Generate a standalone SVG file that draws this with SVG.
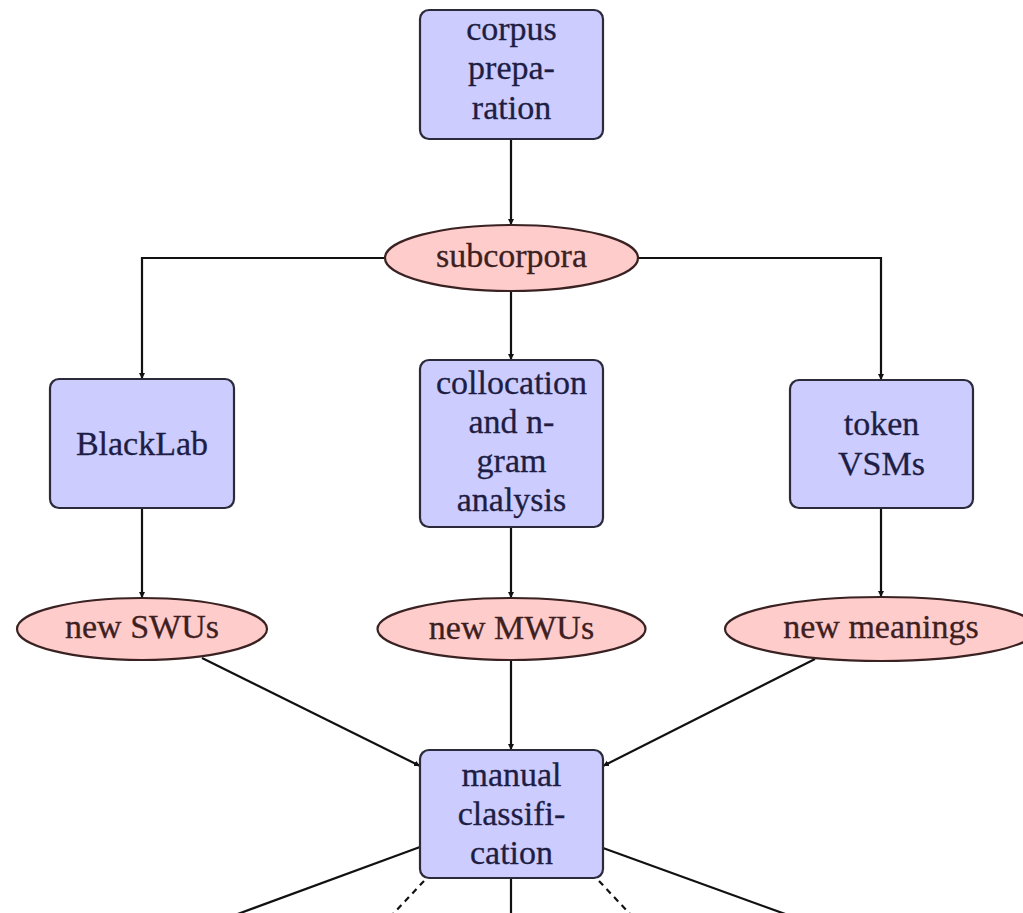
<svg xmlns="http://www.w3.org/2000/svg" width="1023" height="913" viewBox="0 0 1023 913">
<style>
.box rect{fill:#ccccff;stroke:#2a2a3a;stroke-width:2.2}
.ell ellipse{fill:#ffcccc;stroke:#3a2222;stroke-width:2.2}
text{font-family:"Liberation Serif","Times New Roman",serif;font-size:34px;text-anchor:middle;stroke-width:0.3}
.box text{fill:#1e1e44;stroke:#1e1e44}
.ell text{fill:#3d2020;stroke:#3d2020}
.edge{fill:none;stroke:#111;stroke-width:2.2}
.dash{stroke-dasharray:6 5}
</style>
<defs>
<marker id="arr" markerWidth="8" markerHeight="8" refX="6" refY="3" orient="auto" markerUnits="userSpaceOnUse">
<path d="M0,0 L6,3 L0,6 Z" fill="#111"/>
</marker>
</defs>
<rect width="1023" height="913" fill="#fff"/>
<g id="connectors">
<path class="edge" d="M511,139 V225" marker-end="url(#arr)"/>
<path class="edge" d="M385,258 H142 V379" marker-end="url(#arr)"/>
<path class="edge" d="M638,258 H881 V380" marker-end="url(#arr)"/>
<path class="edge" d="M511,291 V360" marker-end="url(#arr)"/>
<path class="edge" d="M142,508 V598" marker-end="url(#arr)"/>
<path class="edge" d="M511,527 V598" marker-end="url(#arr)"/>
<path class="edge" d="M881,508 V597" marker-end="url(#arr)"/>
<path class="edge" d="M202,658 L420,766" marker-end="url(#arr)"/>
<path class="edge" d="M511,660 V750" marker-end="url(#arr)"/>
<path class="edge" d="M815,659 L603,766" marker-end="url(#arr)"/>
<path class="edge" d="M420,847 L235,915"/>
<path class="edge dash" d="M424,881 L392,915"/>
<path class="edge" d="M511,878 V915"/>
<path class="edge dash" d="M599,881 L631,915"/>
<path class="edge" d="M603,848 L788,915"/>
</g>
<g id="corpus-preparation" class="box">
<rect x="420" y="10" width="183" height="129" rx="9"/>
<text x="511.5" y="40">corpus</text>
<text x="511.5" y="79">prepa-</text>
<text x="511.5" y="119">ration</text>
</g>
<g id="subcorpora" class="ell">
<ellipse cx="511.5" cy="258" rx="126.5" ry="33"/>
<text x="511.5" y="267">subcorpora</text>
</g>
<g id="blacklab" class="box">
<rect x="50" y="379" width="184" height="129" rx="9"/>
<text x="142" y="455">BlackLab</text>
</g>
<g id="collocation" class="box">
<rect x="420" y="360" width="183" height="167" rx="9"/>
<text x="511.5" y="394">collocation</text>
<text x="511.5" y="433">and n-</text>
<text x="511.5" y="472">gram</text>
<text x="511.5" y="511">analysis</text>
</g>
<g id="token-vsms" class="box">
<rect x="790" y="380" width="183" height="128" rx="9"/>
<text x="881.5" y="435">token</text>
<text x="881.5" y="475">VSMs</text>
</g>
<g id="new-swus" class="ell">
<ellipse cx="142" cy="629" rx="125" ry="31"/>
<text x="142" y="638">new SWUs</text>
</g>
<g id="new-mwus" class="ell">
<ellipse cx="511.5" cy="629" rx="134" ry="31"/>
<text x="511.5" y="639">new MWUs</text>
</g>
<g id="new-meanings" class="ell">
<ellipse cx="881" cy="629" rx="156" ry="32"/>
<text x="881" y="638">new meanings</text>
</g>
<g id="manual-classification" class="box">
<rect x="420" y="750" width="183" height="128" rx="9"/>
<text x="511.5" y="786">manual</text>
<text x="511.5" y="825">classifi-</text>
<text x="511.5" y="864">cation</text>
</g>
</svg>
